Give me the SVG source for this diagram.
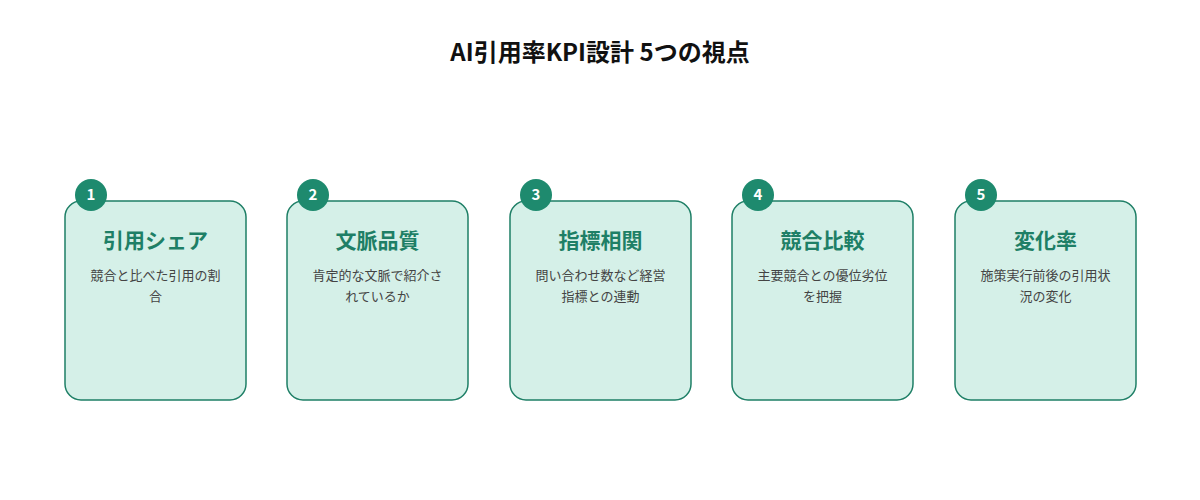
<svg xmlns="http://www.w3.org/2000/svg" width="1200" height="500" viewBox="0 0 1200 500">
<style>
text{font-family:"Noto Sans CJK JP","Noto Sans",sans-serif;text-anchor:middle}
.box{fill:#d5f0e8;stroke:#1e7f66;stroke-width:1.5}
.c{fill:#1e8a6e}
.n{fill:#fff;font-size:15px;font-weight:bold}
.t{fill:#1e7f66;font-size:21px;font-weight:bold}
.d{fill:#444;font-size:13px}
</style>
<rect width="1200" height="500" fill="#fff"/>
<text x="600" y="61" font-size="24" font-weight="bold" fill="#111">AI引用率KPI設計 5つの視点</text>
<g id="n1"><rect class="box" x="65" y="201" width="181" height="199" rx="16"/><circle class="c" cx="91" cy="195" r="16"/><text class="n" x="91" y="200">1</text><text class="t" x="155.5" y="248">引用シェア</text><text class="d" x="155.5" y="280">競合と比べた引用の割</text><text class="d" x="155.5" y="301">合</text></g>
<g id="n2"><rect class="box" x="287" y="201" width="181" height="199" rx="16"/><circle class="c" cx="313" cy="195" r="16"/><text class="n" x="313" y="200">2</text><text class="t" x="377.5" y="248">文脈品質</text><text class="d" x="377.5" y="280">肯定的な文脈で紹介さ</text><text class="d" x="377.5" y="301">れているか</text></g>
<g id="n3"><rect class="box" x="510" y="201" width="181" height="199" rx="16"/><circle class="c" cx="536" cy="195" r="16"/><text class="n" x="536" y="200">3</text><text class="t" x="600.5" y="248">指標相関</text><text class="d" x="600.5" y="280">問い合わせ数など経営</text><text class="d" x="600.5" y="301">指標との連動</text></g>
<g id="n4"><rect class="box" x="732" y="201" width="181" height="199" rx="16"/><circle class="c" cx="758" cy="195" r="16"/><text class="n" x="758" y="200">4</text><text class="t" x="822.5" y="248">競合比較</text><text class="d" x="822.5" y="280">主要競合との優位劣位</text><text class="d" x="822.5" y="301">を把握</text></g>
<g id="n5"><rect class="box" x="955" y="201" width="181" height="199" rx="16"/><circle class="c" cx="981" cy="195" r="16"/><text class="n" x="981" y="200">5</text><text class="t" x="1045.5" y="248">変化率</text><text class="d" x="1045.5" y="280">施策実行前後の引用状</text><text class="d" x="1045.5" y="301">況の変化</text></g>
<g id="connectors"/>
</svg>
